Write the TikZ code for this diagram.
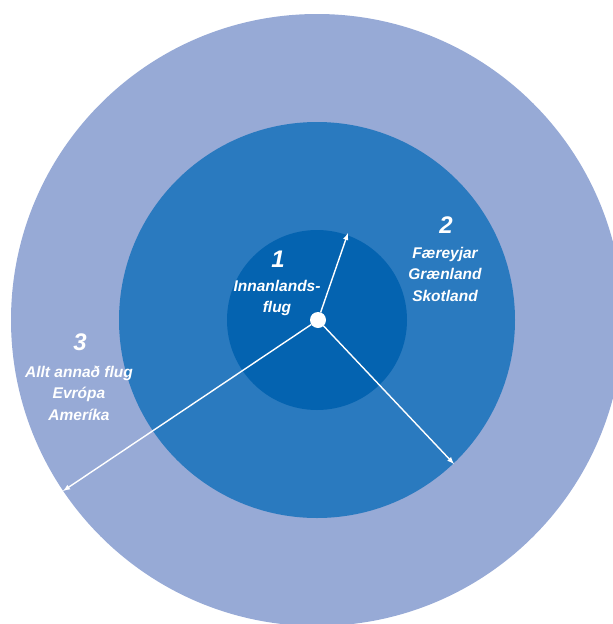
\documentclass[tikz,border=0pt]{standalone}
\usepackage{fontspec}
\setmainfont{Liberation Sans}
\usetikzlibrary{arrows}

\definecolor{ringout}{RGB}{151,170,214}
\definecolor{ringmid}{RGB}{42,122,191}
\definecolor{ringin}{RGB}{4,99,176}

\begin{document}
\begin{tikzpicture}[x=1pt,y=-1pt]
	\tikzstyle{ring} = [circle, inner sep=0pt, outer sep=0pt]
	\tikzstyle{zonenum} = [text=white, font=\bfseries\itshape\fontsize{24}{24}\selectfont]
	\tikzstyle{zonetext} = [text=white, align=center, font=\bfseries\itshape\fontsize{15.5}{21.5}\selectfont]

	\useasboundingbox (0,0) rectangle (613,624);
	\clip (0,0) rectangle (613,624);

	\draw (317,320) node[ring, fill=ringout, minimum size=612pt] (r3) {};
	\draw (317,320) node[ring, fill=ringmid, minimum size=396pt] (r2) {};
	\draw (317,320) node[ring, fill=ringin, minimum size=180pt] (r1) {};
	\draw (318,320) node[ring, fill=white, minimum size=16pt] (hub) {};

	\draw (278,259) node[zonenum] (n1) {1};
	\draw (277,298) node[zonetext] (t1) {Innanlands-\\flug};

	\draw (446,225) node[zonenum] (n2) {2};
	\draw (445,274) node[zonetext] (t2) {Færeyjar\\Grænland\\Skotland};

	\draw (80,342) node[zonenum] (n3) {3};
	\draw (79,393) node[zonetext] (t3) {Allt annað flug\\Evrópa\\Ameríka};

	\coordinate (e1) at (348,233);
	\coordinate (e2) at (454,464);
	\coordinate (e3) at (63,491);

	\draw[-latex, white, line width=1.4pt] (hub) -- (e1);
	\draw[-latex, white, line width=1.4pt] (hub) -- (e2);
	\draw[-latex, white, line width=1.4pt] (hub) -- (e3);
\end{tikzpicture}
\end{document}
